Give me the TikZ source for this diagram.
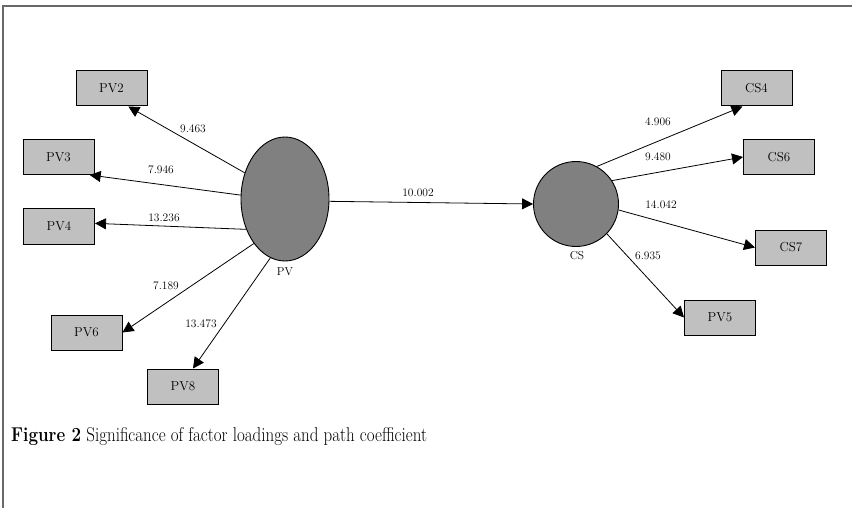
\documentclass[tikz,border=0pt]{standalone}
\usetikzlibrary{arrows.meta,shapes.geometric}
\definecolor{boxgray}{RGB}{192,192,192}
\definecolor{lvgray}{RGB}{128,128,128}
\definecolor{framegray}{RGB}{105,105,105}

\begin{document}
\begin{tikzpicture}[x=1pt,y=-1pt,
    item/.style={draw,line width=1pt,fill=boxgray,minimum width=71pt,minimum height=35pt,inner sep=0pt,font=\fontsize{13}{15}\selectfont},
    latent/.style={draw,line width=0.9pt,fill=lvgray,inner sep=0pt},
    load/.style={font=\fontsize{11.5}{13}\selectfont},
    path/.style={line width=0.8pt,-{Triangle[length=11pt,width=11pt]}}]
    \useasboundingbox (0,0) rectangle (852,508);
    %% frame
    \draw[framegray,line width=1.5pt] (3,508) -- (3,6) -- (852,6);
    %% latent variables
    \node[latent,ellipse,minimum width=88pt,minimum height=124pt] (PV) at (285,199) {};
    \node[latent,circle,minimum size=85pt] (CS) at (576,204) {};
    \node[load] (PVlab) at (285,272) {PV};
    \node[load] (CSlab) at (577,256) {CS};
    %% indicators
    \node[item] (PV2) at (111.5,88.5) {PV2};
    \node[item] (PV3) at (58.5,157) {PV3};
    \node[item] (PV4) at (59,226.5) {PV4};
    \node[item] (PV6) at (86.5,332.5) {PV6};
    \node[item] (PV8) at (183,386.5) {PV8};
    \node[item] (CS4) at (756.5,88.5) {CS4};
    \node[item] (CS6) at (779,157) {CS6};
    \node[item] (CS7) at (791,247.5) {CS7};
    \node[item] (PV5) at (720,317.5) {PV5};
    %% loadings
    \draw[path] (PV.147) -- (PV2.-47);
    \draw[path] (PV.175) -- (PV3.-30);
    \draw[path] (PV.218) -- (PV4.5);
    \draw[path] (PV.235) -- (PV6.east);
    \draw[path] (PV.256) -- (PV8.61);
    \draw[path] (CS.61) -- (CS4.232);
    \draw[path] (CS.33) -- (CS6.west);
    \draw[path] (CS.-8) -- (CS7.west);
    \draw[path] (CS.-44) -- (PV5.west);
    \draw[path] (PV.-3) -- (CS.west);
    \node[load] (t1) at (193,129) {9.463};
    \node[load] (t2) at (161,170) {7.946};
    \node[load] (t3) at (164,218) {13.236};
    \node[load] (t4) at (166,286) {7.189};
    \node[load] (t5) at (201,324) {13.473};
    \node[load] (t6) at (658,122) {4.906};
    \node[load] (t7) at (658,157) {9.480};
    \node[load] (t8) at (661,205) {14.042};
    \node[load] (t9) at (648,256) {6.935};
    \node[load] (t10) at (418,193) {10.002};
    %% caption
    \node[anchor=base west,inner sep=0pt,xscale=0.85,font=\fontsize{20}{24}\selectfont] (cap) at (11,441)
        {\textbf{Figure 2} Significance of factor loadings and path coefficient};
\end{tikzpicture}
\end{document}
